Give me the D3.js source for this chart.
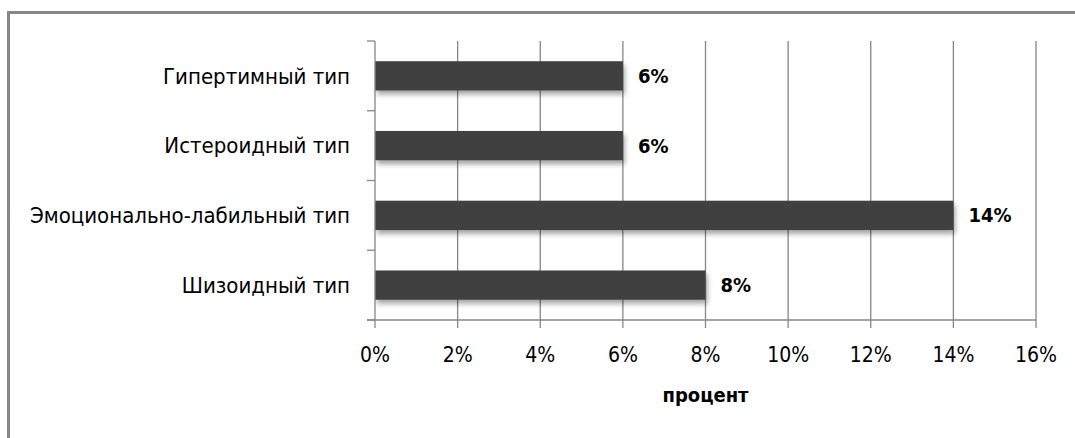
<!DOCTYPE html>
<html lang="ru">
<head>
<meta charset="utf-8">
<title>Типы акцентуаций</title>
<script src="https://d3js.org/d3.v7.min.js"></script>
<style>
  body { margin: 0; background: #fff; }
  svg text { font-family: "Liberation Sans Narrow", "DejaVu Sans Condensed", "Noto Sans", sans-serif; fill: #000; }
</style>
</head>
<body>
<svg id="chart" width="1075" height="438"></svg>
<script>
// данные
const categories = ["Гипертимный тип", "Истероидный тип", "Эмоционально-лабильный тип", "Шизоидный тип"];
const values = [6, 6, 14, 8];
const xTicks = [0, 2, 4, 6, 8, 10, 12, 14, 16];
const axisTitle = "процент";

const svg = d3.select("#chart");
const pLeft = 375, pRight = 1036, pTop = 41, pBottom = 320;

// рамка
svg.append("rect")
  .attr("x", 8.5).attr("y", 12.5)
  .attr("width", 1200).attr("height", 600)
  .attr("fill", "none").attr("stroke", "#878787").attr("stroke-width", 3);

// тень для столбцов
const defs = svg.append("defs");
const f = defs.append("filter").attr("id", "shadow")
  .attr("x", "-5%").attr("y", "-30%").attr("width", "110%").attr("height", "180%");
f.append("feDropShadow").attr("dx", 2).attr("dy", 4).attr("stdDeviation", 2.5)
  .attr("flood-color", "#000").attr("flood-opacity", 0.35);

const x = d3.scaleLinear().domain([0, 16]).range([pLeft, pRight]);
const y = d3.scaleBand().domain(categories).range([pTop, pBottom]).paddingInner(0.58).paddingOuter(0.29);
const yb = d3.scaleBand().domain(categories).range([pTop, pBottom]);

// сетка
svg.append("g").selectAll("line").data(xTicks.slice(1)).join("line")
  .attr("x1", d => x(d)).attr("x2", d => x(d))
  .attr("y1", pTop).attr("y2", pBottom)
  .attr("stroke", "#868686").attr("stroke-width", 1.3);

// столбцы
svg.append("g").selectAll("rect").data(values).join("rect")
  .attr("x", x(0))
  .attr("y", (d, i) => y(categories[i]))
  .attr("width", d => x(d) - x(0))
  .attr("height", y.bandwidth())
  .attr("fill", "#404040")
  .attr("filter", "url(#shadow)");

// ось Y
const gy = svg.append("g");
gy.append("line").attr("x1", pLeft).attr("x2", pLeft).attr("y1", pTop).attr("y2", pBottom)
  .attr("stroke", "#868686").attr("stroke-width", 1.3);
gy.selectAll(".yt").data(categories.concat([null])).join("line")
  .attr("x1", pLeft - 8).attr("x2", pLeft)
  .attr("y1", (d, i) => pTop + i * yb.step()).attr("y2", (d, i) => pTop + i * yb.step())
  .attr("stroke", "#868686").attr("stroke-width", 1.3);
gy.selectAll("text").data(categories).join("text")
  .attr("x", 350)
  .attr("y", d => yb(d) + yb.bandwidth() / 2)
  .attr("dy", "0.35em")
  .attr("text-anchor", "end")
  .attr("font-size", 22)
  .text(d => d);

// ось X
const gx = svg.append("g");
gx.append("line").attr("x1", pLeft - 8).attr("x2", pRight).attr("y1", pBottom).attr("y2", pBottom)
  .attr("stroke", "#868686").attr("stroke-width", 1.3);
gx.selectAll(".xt").data(xTicks).join("line")
  .attr("x1", d => x(d)).attr("x2", d => x(d))
  .attr("y1", pBottom).attr("y2", pBottom + 8)
  .attr("stroke", "#868686").attr("stroke-width", 1.3);
gx.selectAll("text").data(xTicks).join("text")
  .attr("x", d => x(d))
  .attr("y", 355)
  .attr("dy", "0.35em")
  .attr("text-anchor", "middle")
  .attr("font-size", 21)
  .text(d => d + "%");

// подписи значений
svg.append("g").selectAll("text").data(values).join("text")
  .attr("x", d => x(d) + 15)
  .attr("y", (d, i) => yb(categories[i]) + yb.bandwidth() / 2)
  .attr("dy", "0.35em")
  .attr("font-size", 20)
  .attr("font-weight", "bold")
  .text(d => d + "%");

// название оси
svg.append("text")
  .attr("x", (pLeft + pRight) / 2)
  .attr("y", 395)
  .attr("dy", "0.35em")
  .attr("text-anchor", "middle")
  .attr("font-size", 20)
  .attr("font-weight", "bold")
  .text(axisTitle);
</script>
</body>
</html>
